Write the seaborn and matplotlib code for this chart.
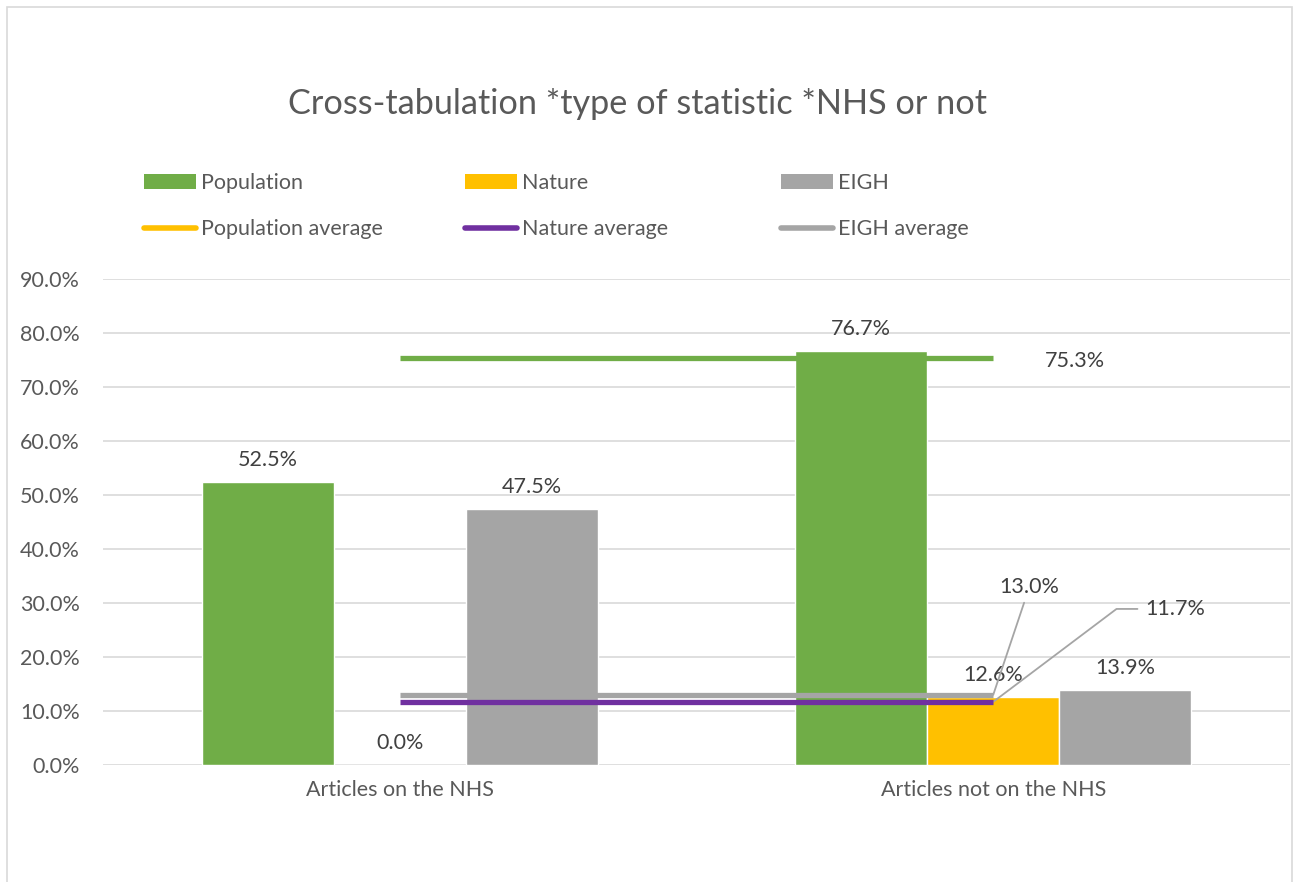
import matplotlib
matplotlib.use("Agg")
import matplotlib.pyplot as plt
import seaborn as sns
import pandas as pd
from matplotlib.patches import Patch, Rectangle
from matplotlib.lines import Line2D

# ---- data ----
categories = ["Articles on the NHS", "Articles not on the NHS"]
series = ["Population", "Nature", "EIGH"]
population = [52.5, 76.7]
nature = [0.0, 12.6]
eigh = [47.5, 13.9]
avg_names = ["Population average", "Nature average", "EIGH average"]
averages = [75.3, 11.7, 13.0]
yticks = [0, 10, 20, 30, 40, 50, 60, 70, 80, 90]

sns.set_theme(style="white")
plt.rcParams["font.family"] = ["Lato", "DejaVu Sans"]

df = pd.DataFrame({
    "category": categories * 3,
    "series": [s for s in series for _ in categories],
    "value": population + nature + eigh,
})

bar_colors = {"Population": "#70AD47", "Nature": "#FFC000", "EIGH": "#A5A5A5"}
line_plot_colors = ["#70AD47", "#7030A0", "#A5A5A5"]
legend_line_colors = ["#FFC000", "#7030A0", "#A5A5A5"]
TXT = "#595959"
LBL = "#404040"
FS = 15.5

fig = plt.figure(figsize=(12.99, 8.82), dpi=100)
fig.patch.set_facecolor("white")
# chart border
fig.add_artist(Rectangle((7 / 1299, -0.05), 1285 / 1299, 1.05 - 7 / 882,
                         transform=fig.transFigure, fill=False,
                         edgecolor="#D9D9D9", lw=1.2))

ax = fig.add_axes([103 / 1299, 117 / 882, 1187 / 1299, 486 / 882])
sns.barplot(data=df, x="category", y="value", hue="series", order=categories,
            hue_order=series, palette=bar_colors, width=0.667, gap=0,
            saturation=1, errorbar=None, legend=False, ax=ax, zorder=2)

for cont in ax.containers:
    vals = [b.get_height() for b in cont]
    ax.bar_label(cont, labels=[f"{v:.1f}%" for v in vals], padding=8.5,
                 fontsize=FS, color=LBL)

# average lines from first to second category centre
for val, col in zip(averages, line_plot_colors):
    ax.plot([0, 1], [val, val], color=col, lw=3.8, solid_capstyle="butt", zorder=4)

ax.annotate(f"{averages[0]:.1f}%", xy=(1.0, averages[0]), xytext=(1.137, 74.9),
            ha="center", va="center", fontsize=FS, color=LBL)
ax.annotate(f"{averages[2]:.1f}%", xy=(1.0, averages[2]), xytext=(1.061, 33.0),
            ha="center", va="center", fontsize=FS, color=LBL,
            arrowprops=dict(arrowstyle="-", color="#A5A5A5", lw=1.3,
                            shrinkA=2, shrinkB=0))
ax.annotate(f"{averages[1]:.1f}%", xy=(1.0, averages[1]), xytext=(1.306, 28.9),
            ha="center", va="center", fontsize=FS, color=LBL,
            arrowprops=dict(arrowstyle="-", color="#A5A5A5", lw=1.3,
                            shrinkA=3, shrinkB=0, relpos=(0, 0.5),
                            connectionstyle="angle,angleA=0,angleB=37,rad=0"))

ax.set_xlim(-0.5, 1.5)
ax.set_ylim(0, 90)
ax.set_yticks(yticks)
ax.set_yticklabels([f"{t:.1f}%" for t in yticks])
ax.set_xlabel("")
ax.set_ylabel("")
ax.grid(axis="y", color="#D9D9D9", lw=1.2, zorder=0)
ax.set_axisbelow(True)
for s in ax.spines.values():
    s.set_visible(False)
ax.tick_params(axis="y", length=0, pad=16.5, labelsize=FS, labelcolor=TXT)
ax.tick_params(axis="x", length=0, pad=11, labelsize=FS, labelcolor=TXT)

fig.text(637 / 1299, 1 - 104 / 882, "Cross-tabulation *type of statistic *NHS or not",
         ha="center", va="center", fontsize=24.7, color=TXT)

# legends, one per column
col_x = [144 / 1299, 465 / 1299, 781 / 1299]
for i in range(3):
    handles = [Patch(facecolor=bar_colors[series[i]], edgecolor="none"),
               Line2D([0], [0], color=legend_line_colors[i], lw=4, solid_capstyle="round")]
    leg = fig.legend(handles, [series[i], avg_names[i]], loc="upper left",
                     bbox_to_anchor=(col_x[i], 1 - 173 / 882), frameon=False,
                     fontsize=FS, handlelength=2.4, handleheight=0.65,
                     handletextpad=0.25, labelspacing=1.22, borderpad=0,
                     borderaxespad=0)
    for t in leg.get_texts():
        t.set_color(TXT)

fig.savefig("out.png", dpi=100, facecolor="white")
